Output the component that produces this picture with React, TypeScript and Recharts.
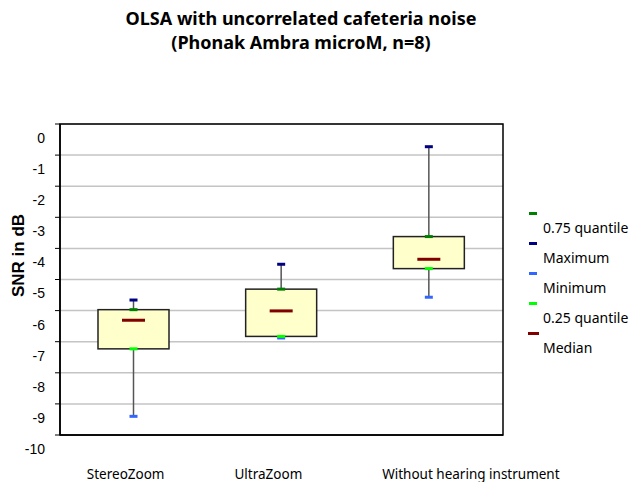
import React from 'react';
import { ComposedChart, Bar, XAxis, YAxis, CartesianGrid, Legend, ReferenceArea } from 'recharts';

const categories = ['StereoZoom', 'UltraZoom', 'Without hearing instrument'];
const minimum = [-9.4, -6.88, -5.57];
const quantile25 = [-7.23, -6.83, -4.65];
const median = [-6.31, -6.01, -4.35];
const quantile75 = [-5.97, -5.31, -3.62];
const maximum = [-5.66, -4.51, -0.73];
const yTicks = [0, -1, -2, -3, -4, -5, -6, -7, -8, -9, -10];

const legendItems = [
  { label: '0.75 quantile', color: '#008000', w: 8 },
  { label: 'Maximum', color: '#000080', w: 8 },
  { label: 'Minimum', color: '#3366ff', w: 8 },
  { label: '0.25 quantile', color: '#00ff00', w: 8 },
  { label: 'Median', color: '#800000', w: 11 },
];

const data = categories.map((name, i) => ({
  name,
  range: [minimum[i], maximum[i]],
  min: minimum[i],
  q1: quantile25[i],
  med: median[i],
  q3: quantile75[i],
  max: maximum[i],
}));

const uiFont = '"Noto Sans", sans-serif';

// draws the whole box plot inside the bar slot, scaled from the bar's own min..max extent
const BoxShape = (props: any) => {
  const { x, y, width, height, payload } = props;
  const top = Math.min(y, y + height);
  const h = Math.abs(height);
  const span = payload.max - payload.min;
  const py = (v: number) => top + ((payload.max - v) / span) * h;
  const cx = x + width / 2;
  const mark = (v: number, color: string, w: number, t = 3) => (
    <rect x={cx - w / 2} y={py(v) - t / 2} width={w} height={t} fill={color} />
  );
  return (
    <g>
      <line x1={cx} x2={cx} y1={py(payload.max)} y2={py(payload.min)} stroke="#555" strokeWidth={1.5} />
      <rect
        x={x}
        y={py(payload.q3)}
        width={width}
        height={py(payload.q1) - py(payload.q3)}
        fill="#ffffcc"
        stroke="#222"
        strokeWidth={1.5}
      />
      {mark(payload.max, '#000080', 8)}
      {mark(payload.q3, '#008000', 8)}
      {mark(payload.min, '#3366ff', 8)}
      {mark(payload.q1, '#00ff00', 8)}
      {mark(payload.med, '#800000', 23)}
    </g>
  );
};

const YTick = (props: any) => {
  const { x, y, payload } = props;
  return (
    <text x={x - 8} y={y + 14} dy="0.35em" textAnchor="end" fontSize={14} fill="#000"
      fontFamily='"Liberation Sans", Arial, sans-serif'>
      {payload.value}
    </text>
  );
};

const XTick = (props: any) => {
  const { x, y, payload } = props;
  return (
    <text x={x - 47} y={y + 31} dy="0.35em" textAnchor="start" fontSize={13.5} fill="#000" fontFamily={uiFont}>
      {payload.value}
    </text>
  );
};

const YLabel = (props: any) => {
  const { viewBox } = props;
  const lx = viewBox.x + 18;
  const ly = viewBox.y + viewBox.height / 2 - 24;
  return (
    <text x={lx} y={ly} transform={`rotate(-90, ${lx}, ${ly})`} textAnchor="middle" dominantBaseline="central"
      fontSize={17} fontWeight={700} fill="#000" fontFamily='"Liberation Sans", Arial, sans-serif'>
      SNR in dB
    </text>
  );
};

const LegendContent = () => (
  <div style={{ fontFamily: uiFont, fontSize: 14, color: '#000' }}>
    {legendItems.map((it) => (
      <div key={it.label} style={{ height: 30, position: 'relative' }}>
        <div style={{ position: 'absolute', left: 10 - it.w / 2, top: 0, width: it.w, height: 3, background: it.color }} />
        <div style={{ position: 'absolute', left: 20, top: 6, whiteSpace: 'nowrap', lineHeight: '20px' }}>{it.label}</div>
      </div>
    ))}
  </div>
);

export default function App() {
  return (
    <div style={{ position: 'relative', width: 630, height: 482, background: '#fff' }}>
      <style>{'body{margin:0}'}</style>
      <div style={{
        position: 'absolute', left: 0, width: 602, top: 6, textAlign: 'center',
        fontFamily: uiFont, fontWeight: 700, fontSize: 18, lineHeight: '24px', color: '#000',
      }}>
        <div>OLSA with uncorrelated cafeteria noise</div>
        <div>(Phonak Ambra microM, n=8)</div>
      </div>
      <ComposedChart width={630} height={482} data={data} margin={{ top: 124, right: 127, bottom: 7, left: 0 }}
        style={{ position: 'absolute', left: 0, top: 0 }}>
        <CartesianGrid vertical={false} stroke="#c4c4c4" strokeWidth={1.5} />
        <XAxis dataKey="name" height={40} tick={<XTick />} tickLine={false} axisLine={{ stroke: '#000', strokeWidth: 1.5 }} />
        <YAxis type="number" domain={[-10, 0]} ticks={yTicks} interval={0} width={60} tick={<YTick />}
          tickSize={5} tickLine={{ stroke: '#000' }} axisLine={{ stroke: '#000', strokeWidth: 1.5 }} label={<YLabel />} />
        <Legend layout="vertical" align="center" verticalAlign="middle" content={<LegendContent />}
          wrapperStyle={{ left: 523, top: 212, width: 107 }} />
        {/* plot frame */}
        <ReferenceArea x1={categories[0]} x2={categories[categories.length - 1]} y1={-10} y2={0}
          fill="none" fillOpacity={0} stroke="#000" strokeWidth={1.5} ifOverflow="visible" />
        <Bar dataKey="range" barSize={71} shape={<BoxShape />} isAnimationActive={false} legendType="none" />
      </ComposedChart>
    </div>
  );
}
